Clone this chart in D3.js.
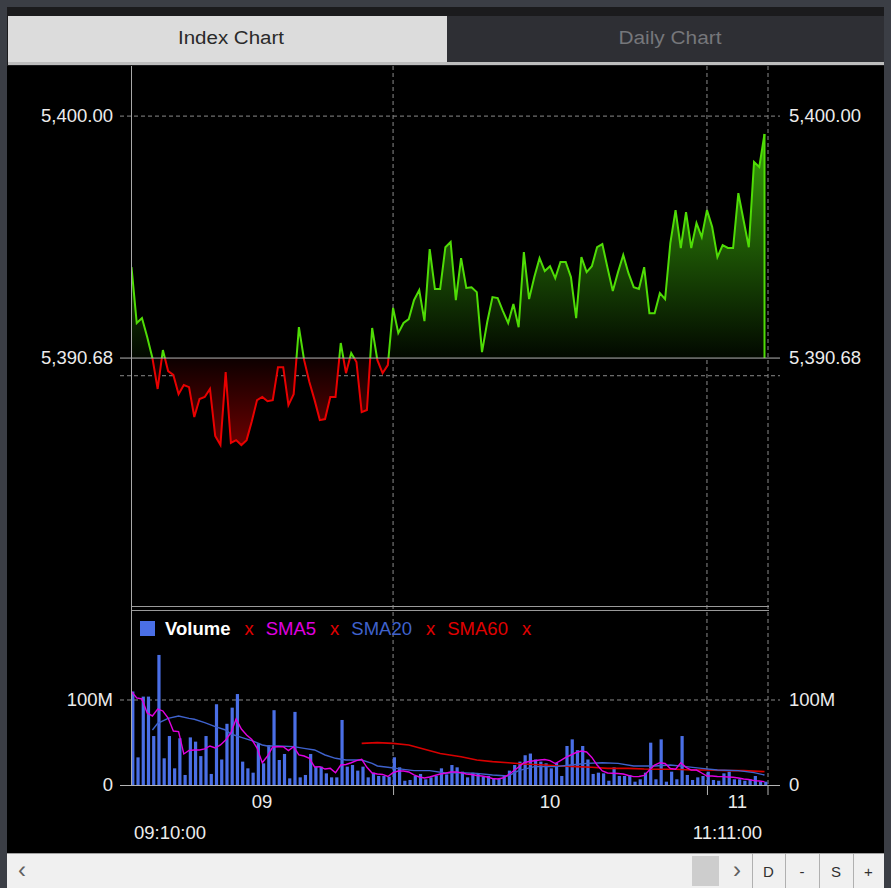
<!DOCTYPE html>
<html>
<head>
<meta charset="utf-8">
<script src="https://cdn.jsdelivr.net/npm/d3@7"></script>
<style>
  body { margin: 0; background: #000; }
  svg { display: block; }
  text { font-family: 'Liberation Sans', Arial, sans-serif; }
</style>
</head>
<body>
<div id="chart"></div>
<script>
// minute-by-minute index, 09:10 .. 11:11
const startTime = '09:10'
const endTime = '11:11'
const prevClose = 5390.68

const prices = [
  5394.18, 5392.03, 5392.22, 5391.49, 5390.68, 5389.49, 5390.99, 5390.18, 5390.03, 5389.29,
  5389.64, 5389.56, 5388.41, 5389.10, 5389.18, 5389.49, 5387.68, 5387.33, 5390.14, 5387.41,
  5387.52, 5387.33, 5387.52, 5388.25, 5389.06, 5389.18, 5389.02, 5389.06, 5390.33, 5390.33,
  5388.87, 5389.29, 5391.87, 5390.60, 5389.76, 5389.06, 5388.29, 5388.33, 5389.18, 5389.18,
  5391.26, 5390.10, 5390.87, 5390.53, 5388.60, 5388.68, 5391.84, 5390.60, 5390.10, 5390.41,
  5392.61, 5391.64, 5392.03, 5392.18, 5392.91, 5393.30, 5392.10, 5394.88, 5393.34, 5393.34,
  5394.95, 5395.15, 5392.91, 5394.53, 5393.38, 5393.41, 5393.22, 5390.91, 5392.07, 5393.03,
  5392.99, 5392.49, 5392.03, 5392.76, 5391.87, 5394.76, 5392.95, 5393.80, 5394.53, 5394.03,
  5394.22, 5393.76, 5394.38, 5394.38, 5393.80, 5392.22, 5394.57, 5393.99, 5394.22, 5394.95,
  5395.07, 5394.15, 5393.26, 5393.99, 5394.65, 5393.95, 5393.41, 5393.34, 5394.18, 5392.41,
  5392.41, 5393.18, 5392.95, 5395.11, 5396.38, 5394.92, 5396.30, 5394.92, 5395.88, 5395.34,
  5396.38, 5395.73, 5394.57, 5395.03, 5394.92, 5394.92, 5397.03, 5395.99, 5394.95, 5398.23,
  5398.04, 5399.31
]

// volume per minute, millions
const volumes = [
  110, 32.5, 104, 104, 57.6, 153, 31.4, 57.6, 19.6, 55,
  11.8, 56, 51, 34, 57.6, 13, 95, 30, 72, 91,
  107, 27.5, 19.6, 14.5, 49, 25.5, 47, 88, 29.4, 36.5,
  7.8, 86, 9, 11.8, 36.5, 21.6, 21.6, 13.7, 9, 9,
  76.5, 21.6, 23.5, 16.9, 21.6, 9, 14.5, 10.6, 10.6, 9.8,
  32.6, 20.8, 5, 5.9, 10.6, 13, 6.7, 9, 10.6, 19.6,
  12.5, 23.5, 20.8, 15.7, 9, 14.5, 13, 9.8, 10.6, 7.8,
  7.8, 10.6, 16.9, 23.5, 27.5, 35, 37, 30, 27.5, 25.5,
  19.6, 26, 10.6, 45.9, 53.7, 41, 45.9, 30, 13, 14.5,
  13.7, 5, 20.8, 10.6, 10.6, 11.8, 3.9, 6.7, 14.5, 49.8,
  6.7, 53.7, 3.9, 15.7, 6.7, 57.6, 11.8, 5.9, 9, 10.6,
  15.7, 5.9, 5, 13.7, 15.7, 6.7, 6.7, 5, 6.7, 10.6,
  3.9, 3.9
]

const sma5 = [
  109.8, 102.4, 101.2, 84.7, 81.2, 89.4, 87.1, 78.8, 63.5, 62.9,
  36.5, 40.6, 41.2, 41.2, 42.4, 45.9, 43.5, 47.1, 52.9, 61.2,
  77.6, 65.9, 58.8, 53.5, 43.5, 26.2, 34.1, 44.7, 45, 45,
  40.4, 45, 35.3, 34.1, 31.4, 21.2, 21.5, 18.8, 19.6, 14.5,
  23.5, 24.1, 26.2, 28.6, 30.2, 20.8, 14.1, 12.9, 12.4, 10,
  14.5, 16.5, 16.5, 15.3, 11.8, 9.4, 8.2, 9.4, 11.2, 12.9,
  13.8, 15.3, 15.3, 14.5, 12.9, 12.4, 11.2, 10.6, 9.4, 7.6,
  7.1, 8.2, 11.8, 16.5, 21.2, 26.2, 27.6, 28.6, 29.4, 30,
  28.6, 25.3, 28.8, 32.4, 35.3, 38.2, 40, 38.8, 32.4, 23.5,
  16.5, 14.1, 13.8, 13.5, 12.9, 11.2, 9.8, 10, 11.2, 17.6,
  23.5, 26.2, 25.3, 19.4, 18.5, 26.2, 20.8, 17.6, 17.6, 14.1,
  10.6, 10.6, 10, 9.8, 9.4, 9.1, 8.2, 7.1, 6.5, 5.1,
  4.7, 3.9
]

// [minute index, value in millions]
const sma20 = [
  [4, 64.7], [5, 72.5], [7, 78.4], [9, 81.2], [11, 78.4], [12, 77.3], [14, 73.3], [16, 68.6],
  [18, 64.7], [19, 60], [21, 56.1], [23, 52.2], [25, 47.1], [26, 45.9], [28, 45.9], [31, 45.1],
  [33, 43.1], [35, 41.2], [37, 35.3], [39, 31.4], [41, 29.4], [44, 29.4], [46, 25.5], [47, 22.4],
  [49, 20.8], [52, 18.4], [54, 16.9], [57, 16.9], [60, 14.1], [63, 14.5], [66, 13.7], [69, 11.8],
  [72, 10.6], [74, 16.9], [77, 21.6], [81, 21.6], [84, 23.5], [87, 25.5], [90, 26.2], [93, 25.5],
  [96, 22.4], [100, 22.4], [103, 23.5], [106, 21.6], [109, 19.6], [112, 17.6], [116, 16.9],
  [119, 14.5], [121, 11.8]
]

const sma60 = [
  [44, 49], [47, 49.8], [50, 49], [53, 47], [56, 42], [59, 37], [63, 33.3], [66, 29.4],
  [69, 27.5], [72, 26.2], [75, 24.7], [79, 23.5], [82, 22.4], [85, 21.6], [88, 20.8],
  [91, 19.6], [95, 19.6], [98, 18.8], [101, 18.5], [104, 18.5], [107, 17.6], [110, 17.6],
  [114, 16.9], [117, 16.9], [121, 15.7]
]

const priceLabels = [5400, prevClose]
const priceGrid = [5400, 5390]
const volumeTicks = [0, 100]
const hourLabels = ['09', '10', '11']
const timeLabels = ['09:10:00', '11:11:00']
const tabLabels = ['Index Chart', 'Daily Chart']
const legendItems = [
  { key: 'Volume', color: '#ffffff' },
  { key: 'SMA5', color: '#e000e0' },
  { key: 'SMA20', color: '#3f62cc' },
  { key: 'SMA60', color: '#e00000' }
]
const buttonLabels = ['D', '-', 'S', '+']

const width = 891
const height = 888
const plotLeft = 131
const plotRight = 768
const priceTop = 66
const priceBottom = 606
const volTop = 611
const volBottom = 785

const parseTime = d3.timeParse('%H:%M')
const times = d3.timeMinute.range(parseTime(startTime), d3.timeMinute.offset(parseTime(endTime), 1))

const x = d3.scaleTime()
  .domain([times[0], times[times.length - 1]])
  .range([131.5, 764.5])

const y = d3.scaleLinear()
  .domain([5381.13, 5401.93])
  .range([priceBottom, priceTop])

const yVol = d3.scaleLinear()
  .domain([0, 204.7])
  .range([volBottom, volTop])

const fmt = d3.format(',.2f')

const svg = d3.select('#chart')
  .append('svg')
  .attr('width', width)
  .attr('height', height)

// frame
svg.append('rect').attr('width', width).attr('height', height).attr('fill', '#3b3e45')
svg.append('rect').attr('x', 7).attr('y', 7).attr('width', 877).attr('height', 60).attr('fill', '#1b1b1d')
svg.append('rect').attr('x', 7).attr('y', 66).attr('width', 877).attr('height', 787).attr('fill', '#000')

// tabs
const tabs = svg.append('g')
tabs.selectAll('rect')
  .data(tabLabels)
  .enter()
  .append('rect')
  .attr('x', (d, i) => (i === 0 ? 8 : 447))
  .attr('y', 16)
  .attr('width', (d, i) => (i === 0 ? 439 : 437))
  .attr('height', 47)
  .attr('fill', (d, i) => (i === 0 ? '#dcdcdc' : '#2e2f34'))
tabs.selectAll('text')
  .data(tabLabels)
  .enter()
  .append('text')
  .text(d => d)
  .attr('x', (d, i) => (i === 0 ? 231 : 670))
  .attr('y', 44)
  .attr('text-anchor', 'middle')
  .attr('font-size', 18)
  .attr('textLength', (d, i) => (i === 0 ? 106 : 103))
  .attr('lengthAdjust', 'spacingAndGlyphs')
  .attr('fill', (d, i) => (i === 0 ? '#2a2a2a' : '#76777b'))
svg.append('rect').attr('x', 8).attr('y', 62).attr('width', 876).attr('height', 3).attr('fill', '#bdbdbd')

// gradients
const defs = svg.append('defs')
const gUp = defs.append('linearGradient')
  .attr('id', 'grad-up')
  .attr('gradientUnits', 'userSpaceOnUse')
  .attr('x1', 0).attr('x2', 0)
  .attr('y1', y(5399.5)).attr('y2', y(prevClose))
gUp.append('stop').attr('offset', 0).attr('stop-color', '#3aa80a')
gUp.append('stop').attr('offset', 1).attr('stop-color', '#020800')
const gDown = defs.append('linearGradient')
  .attr('id', 'grad-down')
  .attr('gradientUnits', 'userSpaceOnUse')
  .attr('x1', 0).attr('x2', 0)
  .attr('y1', y(prevClose)).attr('y2', y(5387.2))
gDown.append('stop').attr('offset', 0).attr('stop-color', '#0c0000')
gDown.append('stop').attr('offset', 1).attr('stop-color', '#6e0000')

defs.append('clipPath').attr('id', 'clip-up')
  .append('rect')
  .attr('x', plotLeft).attr('y', priceTop)
  .attr('width', plotRight - plotLeft).attr('height', y(prevClose) - priceTop)
defs.append('clipPath').attr('id', 'clip-down')
  .append('rect')
  .attr('x', plotLeft).attr('y', y(prevClose))
  .attr('width', plotRight - plotLeft).attr('height', priceBottom - y(prevClose))

// grid
const grid = svg.append('g')
grid.selectAll('line.h')
  .data(priceGrid)
  .enter()
  .append('line')
  .attr('x1', 120).attr('x2', 780)
  .attr('y1', d => y(d)).attr('y2', d => y(d))
  .attr('stroke', '#8a8a8a')
  .attr('stroke-dasharray', '4,3')

const hours = [parseTime('10:00'), parseTime('11:00')]
grid.selectAll('line.v')
  .data(hours.map(d => x(d)).concat([plotRight]))
  .enter()
  .append('line')
  .attr('x1', d => d).attr('x2', d => d)
  .attr('y1', priceTop).attr('y2', volBottom)
  .attr('stroke', '#8a8a8a')
  .attr('stroke-dasharray', '4,3')

// price area + line
const area = d3.area()
  .x((d, i) => x(times[i]))
  .y0(y(prevClose))
  .y1(d => y(d))
const line = d3.line()
  .x((d, i) => x(times[i]))
  .y(d => y(d))

svg.append('path').datum(prices).attr('d', area).attr('fill', 'url(#grad-up)').attr('clip-path', 'url(#clip-up)')
svg.append('path').datum(prices).attr('d', area).attr('fill', 'url(#grad-down)').attr('clip-path', 'url(#clip-down)')
svg.append('path').datum(prices).attr('d', line).attr('fill', 'none')
  .attr('stroke', '#4fdc06').attr('stroke-width', 2).attr('clip-path', 'url(#clip-up)')
svg.append('path').datum(prices).attr('d', line).attr('fill', 'none')
  .attr('stroke', '#e80000').attr('stroke-width', 2).attr('clip-path', 'url(#clip-down)')
svg.append('line')
  .attr('x1', x(times[times.length - 1])).attr('x2', x(times[times.length - 1]))
  .attr('y1', y(prices[prices.length - 1])).attr('y2', y(prevClose))
  .attr('stroke', '#4fdc06').attr('stroke-width', 2)

// base line (previous close)
svg.append('line')
  .attr('x1', 120).attr('x2', 780)
  .attr('y1', y(prevClose)).attr('y2', y(prevClose))
  .attr('stroke', '#b4b4b4')

// price labels
svg.selectAll('text.pl')
  .data(priceLabels)
  .enter()
  .append('text')
  .attr('class', 'pl')
  .text(d => fmt(d))
  .attr('x', 113)
  .attr('y', d => y(d) + 6)
  .attr('text-anchor', 'end')
  .attr('font-size', 18.5)
  .attr('fill', '#ececec')
svg.selectAll('text.pr')
  .data(priceLabels)
  .enter()
  .append('text')
  .attr('class', 'pr')
  .text(d => fmt(d))
  .attr('x', 789)
  .attr('y', d => y(d) + 6)
  .attr('font-size', 18.5)
  .attr('fill', '#ececec')

// volume panel separators
svg.selectAll('line.sep')
  .data([606, 610])
  .enter()
  .append('line')
  .attr('x1', plotLeft).attr('x2', plotRight + 1)
  .attr('y1', d => d + 0.5).attr('y2', d => d + 0.5)
  .attr('stroke', '#9a9a9a')

svg.append('line')
  .attr('x1', 120).attr('x2', 780)
  .attr('y1', yVol(100)).attr('y2', yVol(100))
  .attr('stroke', '#8a8a8a')
  .attr('stroke-dasharray', '4,3')

// volume bars
svg.append('g')
  .selectAll('rect')
  .data(volumes)
  .enter()
  .append('rect')
  .attr('x', (d, i) => x(times[i]) - 0.3)
  .attr('y', d => yVol(d))
  .attr('width', 3.2)
  .attr('height', d => yVol(0) - yVol(d))
  .attr('fill', '#4a6fe6')

// moving averages
const smaLine = d3.line()
  .x(d => x(times[d[0]]))
  .y(d => yVol(d[1]))

svg.append('path').datum(sma60).attr('d', smaLine)
  .attr('fill', 'none').attr('stroke', '#d80000').attr('stroke-width', 1.6)
svg.append('path').datum(sma20).attr('d', smaLine)
  .attr('fill', 'none').attr('stroke', '#3f62cc').attr('stroke-width', 1.4)
svg.append('path').datum(sma5.map((d, i) => [i, d])).attr('d', smaLine)
  .attr('fill', 'none').attr('stroke', '#e000e0').attr('stroke-width', 1.4)

// volume labels
svg.selectAll('text.vl')
  .data(volumeTicks)
  .enter()
  .append('text')
  .text(d => (d === 0 ? '0' : d + 'M'))
  .attr('x', 113)
  .attr('y', d => yVol(d) + 6)
  .attr('text-anchor', 'end')
  .attr('font-size', 18.5)
  .attr('fill', '#ececec')
svg.selectAll('text.vr')
  .data(volumeTicks)
  .enter()
  .append('text')
  .text(d => (d === 0 ? '0' : d + 'M'))
  .attr('x', 789)
  .attr('y', d => yVol(d) + 6)
  .attr('font-size', 18.5)
  .attr('fill', '#ececec')

// axes lines
svg.append('line')
  .attr('x1', plotLeft + 0.5).attr('x2', plotLeft + 0.5)
  .attr('y1', priceTop).attr('y2', volBottom)
  .attr('stroke', '#a8a8a8')
svg.append('line')
  .attr('x1', 120).attr('x2', 780)
  .attr('y1', volBottom + 0.5).attr('y2', volBottom + 0.5)
  .attr('stroke', '#b4b4b4')

const xAxis = d3.axisBottom(x)
  .tickValues(hours)
  .tickSize(10)
  .tickFormat('')
const axisG = svg.append('g')
  .attr('transform', `translate(0,${volBottom})`)
  .call(xAxis)
axisG.select('.domain').remove()
axisG.selectAll('line').attr('stroke', '#b4b4b4')
svg.append('line')
  .attr('x1', plotRight).attr('x2', plotRight)
  .attr('y1', volBottom).attr('y2', volBottom + 10)
  .attr('stroke', '#b4b4b4')

// hour labels centred in their spans
const bounds = [plotLeft, x(hours[0]), x(hours[1]), plotRight]
svg.selectAll('text.hr')
  .data(hourLabels)
  .enter()
  .append('text')
  .text(d => d)
  .attr('x', (d, i) => (bounds[i] + bounds[i + 1]) / 2)
  .attr('y', 808)
  .attr('text-anchor', 'middle')
  .attr('font-size', 18.5)
  .attr('fill', '#ececec')

svg.selectAll('text.tm')
  .data(timeLabels)
  .enter()
  .append('text')
  .text(d => d)
  .attr('x', (d, i) => (i === 0 ? 134 : 762))
  .attr('y', 839)
  .attr('text-anchor', (d, i) => (i === 0 ? 'start' : 'end'))
  .attr('font-size', 18.5)
  .attr('fill', '#ececec')

// legend
const legend = svg.append('g').attr('transform', 'translate(140,635)')
legend.append('rect').attr('x', 0).attr('y', -14).attr('width', 15).attr('height', 15).attr('fill', '#4a6fe6')
let lx = 25
legendItems.forEach((item, i) => {
  const t = legend.append('text')
    .text(item.key)
    .attr('x', lx)
    .attr('font-size', 18.5)
    .attr('font-weight', i === 0 ? 'bold' : 'normal')
    .attr('fill', item.color)
  lx += t.node().getComputedTextLength() + 14
  const c = legend.append('text')
    .text('x')
    .attr('x', lx)
    .attr('font-size', 18.5)
    .attr('fill', '#e00000')
  lx += c.node().getComputedTextLength() + 12
})

// scroll bar and buttons
const bar = svg.append('g').attr('transform', 'translate(0,853)')
bar.append('rect').attr('x', 7).attr('width', 877).attr('height', 35).attr('fill', '#f0f0f0')
bar.append('line').attr('x1', 7).attr('x2', 884).attr('y1', 0.5).attr('y2', 0.5).attr('stroke', '#a0a0a0')
bar.append('text').text('‹').attr('x', 22).attr('y', 25).attr('text-anchor', 'middle')
  .attr('font-size', 24).attr('fill', '#606060')
bar.append('rect').attr('x', 692).attr('y', 3).attr('width', 27).attr('height', 30).attr('fill', '#cdcdcd')
bar.append('text').text('›').attr('x', 737).attr('y', 25).attr('text-anchor', 'middle')
  .attr('font-size', 24).attr('fill', '#606060')
const btnX = [752, 785, 819, 853, 884]
bar.selectAll('line.b')
  .data(btnX.slice(0, 4))
  .enter()
  .append('line')
  .attr('x1', d => d + 0.5).attr('x2', d => d + 0.5)
  .attr('y1', 1).attr('y2', 35)
  .attr('stroke', '#b0b0b0')
bar.selectAll('text.b')
  .data(buttonLabels)
  .enter()
  .append('text')
  .text(d => d)
  .attr('x', (d, i) => (btnX[i] + btnX[i + 1]) / 2)
  .attr('y', 24)
  .attr('text-anchor', 'middle')
  .attr('font-size', 15)
  .attr('fill', '#303030')
</script>
</body>
</html>
